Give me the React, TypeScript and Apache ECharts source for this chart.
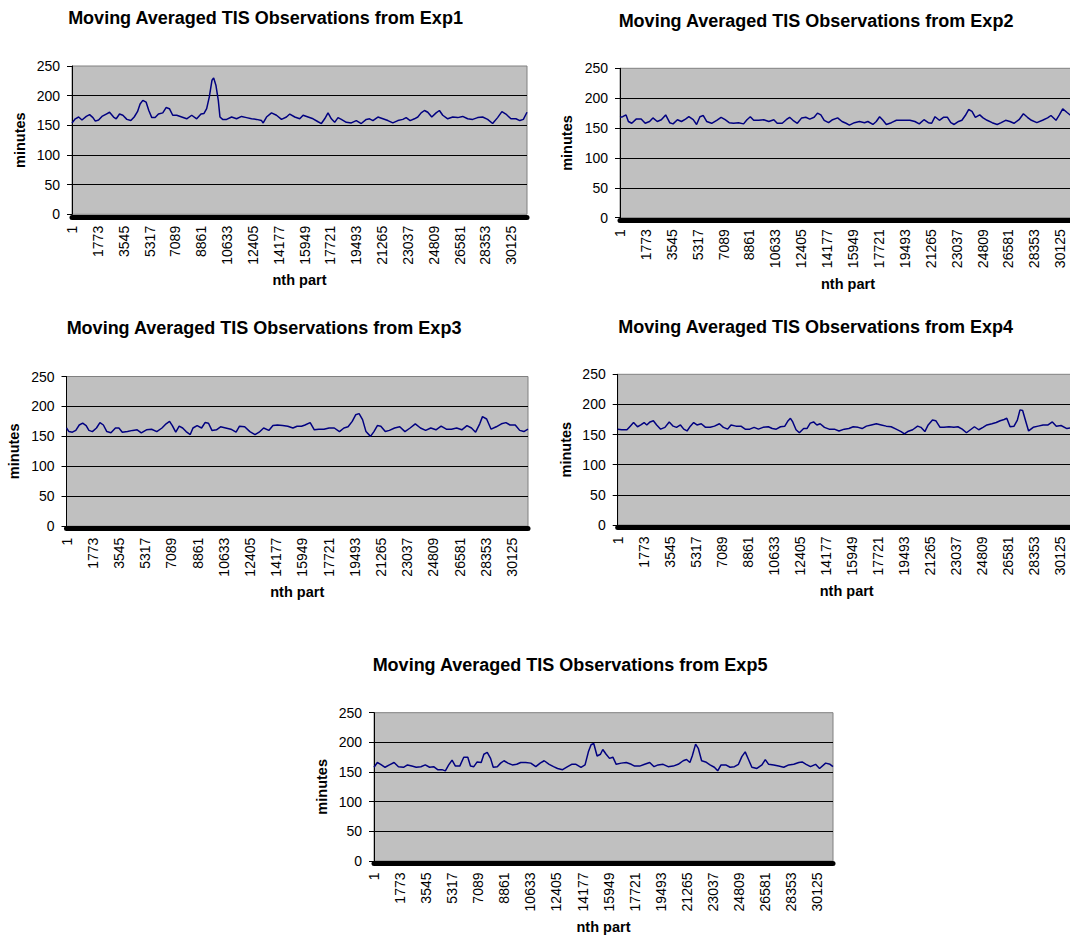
import React, { useEffect, useRef } from "react";
import * as echarts from "echarts";

// ---------- data ----------
const TOTAL_PARTS = 31200;
const PART_STEP = 1772;
const Y_MIN = 0;
const Y_MAX = 250;
const Y_STEP = 50;
const X_AXIS_NAME = "nth part";
const Y_AXIS_NAME = "minutes";
const TITLES = [
  "Moving Averaged TIS Observations from Exp1",
  "Moving Averaged TIS Observations from Exp2",
  "Moving Averaged TIS Observations from Exp3",
  "Moving Averaged TIS Observations from Exp4",
  "Moving Averaged TIS Observations from Exp5",
];

// [part index, moving-averaged minutes]
const exp1: [number, number][] = [
  [0, 154], [228, 161], [456, 164], [684, 159], [980, 165], [1208, 168], [1436, 163], [1600, 157],
  [1824, 159], [2052, 165], [2348, 169], [2576, 172], [2850, 164], [3032, 161], [3260, 169], [3488, 167],
  [3762, 160], [4036, 158], [4264, 164], [4490, 173], [4670, 186], [4856, 192], [5084, 189], [5267, 175],
  [5472, 163], [5700, 163], [5928, 169], [6224, 171], [6452, 180], [6680, 178], [6908, 167], [7182, 167],
  [7524, 164], [7866, 161], [8208, 167], [8550, 161], [8846, 169], [9052, 170], [9234, 178], [9416, 198],
  [9600, 226], [9714, 230], [9873, 217], [10032, 192], [10146, 164], [10328, 160], [10602, 160], [10944, 164],
  [11286, 161], [11628, 165], [11970, 163], [12312, 161], [12654, 160], [12996, 158], [13110, 154], [13338, 164],
  [13680, 171], [14022, 167], [14364, 160], [14706, 164], [14934, 169], [15276, 164], [15618, 161], [15846, 167],
  [16188, 164], [16530, 161], [16872, 156], [17100, 153], [17328, 161], [17556, 171], [17784, 161], [18012, 155],
  [18240, 163], [18468, 160], [18810, 155], [19152, 154], [19494, 158], [19836, 153], [20178, 160], [20406, 161],
  [20634, 158], [20976, 164], [21318, 161], [21660, 158], [22002, 154], [22344, 158], [22686, 160], [22914, 163],
  [23188, 158], [23484, 161], [23712, 164], [23940, 171], [24168, 175], [24396, 172], [24670, 164], [24966, 171],
  [25194, 175], [25422, 167], [25764, 161], [26106, 164], [26448, 163], [26790, 165], [27132, 161], [27474, 160],
  [27816, 163], [28158, 164], [28500, 160], [28842, 153], [29184, 163], [29480, 173], [29754, 169], [30096, 161],
  [30438, 161], [30712, 158], [30950, 160], [31200, 172],
];

const exp2: [number, number][] = [
  [0, 168], [184, 169], [414, 172], [575, 161], [804, 158], [1103, 165], [1448, 165], [1724, 158],
  [2022, 161], [2252, 167], [2551, 161], [2827, 164], [3125, 172], [3401, 159], [3631, 157], [3930, 164],
  [4205, 161], [4481, 165], [4711, 169], [5010, 164], [5240, 156], [5469, 169], [5699, 171], [5929, 161],
  [6274, 158], [6618, 163], [6917, 168], [7193, 164], [7469, 159], [7768, 158], [8113, 159], [8457, 157],
  [8687, 164], [8917, 169], [9147, 163], [9491, 163], [9836, 164], [10181, 161], [10525, 164], [10755, 158],
  [11100, 158], [11375, 164], [11605, 168], [11835, 163], [12133, 158], [12432, 167], [12708, 168], [12984, 165],
  [13283, 168], [13512, 175], [13742, 172], [13972, 163], [14271, 159], [14547, 164], [14891, 167], [15190, 161],
  [15465, 158], [15695, 155], [16040, 159], [16385, 161], [16729, 159], [16959, 161], [17304, 156], [17534, 161],
  [17763, 169], [17993, 163], [18223, 156], [18568, 159], [18912, 163], [19372, 163], [19832, 163], [20176, 161],
  [20475, 157], [20797, 164], [21095, 159], [21325, 158], [21555, 169], [21854, 163], [22130, 168], [22405, 168],
  [22635, 159], [22865, 156], [23164, 161], [23394, 163], [23624, 171], [23854, 181], [24084, 178], [24314, 168],
  [24613, 172], [24843, 167], [25118, 163], [25463, 159], [25808, 156], [26084, 159], [26383, 163], [26681, 161],
  [26957, 158], [27302, 164], [27601, 174], [27877, 168], [28152, 163], [28520, 159], [28911, 163], [29256, 167],
  [29486, 171], [29831, 163], [30061, 172], [30291, 182], [30590, 176], [31000, 168],
];

const exp3: [number, number][] = [
  [0, 164], [163, 158], [396, 157], [629, 160], [862, 169], [1095, 172], [1328, 168], [1515, 160],
  [1748, 158], [2027, 164], [2260, 173], [2493, 169], [2726, 158], [3006, 156], [3309, 164], [3542, 164],
  [3775, 157], [4124, 158], [4474, 160], [4777, 161], [5056, 156], [5406, 161], [5755, 162], [6105, 158],
  [6454, 164], [6734, 171], [6967, 175], [7153, 168], [7386, 157], [7619, 167], [7852, 164], [8085, 158],
  [8365, 153], [8551, 164], [8831, 168], [9134, 164], [9367, 173], [9600, 172], [9833, 160], [10136, 161],
  [10415, 166], [10765, 164], [11114, 162], [11464, 157], [11697, 167], [12046, 166], [12396, 158], [12745, 153],
  [13025, 157], [13328, 164], [13677, 160], [13957, 168], [14260, 169], [14609, 168], [14959, 167], [15308, 164],
  [15588, 167], [15891, 167], [16124, 169], [16473, 173], [16753, 161], [17056, 162], [17405, 162], [17755, 164],
  [18104, 164], [18454, 158], [18757, 164], [19036, 166], [19316, 175], [19549, 186], [19782, 188], [20015, 178],
  [20248, 158], [20551, 150], [20784, 158], [21017, 168], [21250, 167], [21553, 158], [21832, 160], [22182, 164],
  [22531, 166], [22881, 158], [23230, 164], [23580, 171], [23929, 164], [24279, 160], [24628, 164], [24978, 161],
  [25327, 167], [25677, 162], [26026, 162], [26376, 164], [26725, 161], [27075, 168], [27378, 164], [27657, 157],
  [27936, 171], [28123, 183], [28403, 179], [28706, 162], [29055, 166], [29405, 171], [29707, 173], [29987, 169],
  [30337, 169], [30640, 160], [30919, 158], [31200, 162],
];

const exp4: [number, number][] = [
  [0, 159], [270, 158], [630, 158], [855, 164], [1080, 170], [1350, 163], [1575, 166], [1800, 170],
  [1980, 166], [2205, 171], [2430, 173], [2655, 166], [2925, 159], [3218, 162], [3510, 171], [3780, 164],
  [4005, 162], [4275, 166], [4500, 159], [4725, 156], [4950, 164], [5175, 170], [5400, 166], [5693, 168],
  [5985, 162], [6300, 162], [6593, 164], [6930, 168], [7200, 162], [7493, 159], [7718, 166], [8055, 164],
  [8393, 164], [8685, 159], [9000, 159], [9293, 162], [9585, 159], [9900, 162], [10260, 163], [10530, 160],
  [10800, 159], [11093, 163], [11385, 164], [11610, 173], [11768, 177], [11925, 171], [12150, 158], [12375, 153],
  [12668, 160], [12893, 160], [13118, 169], [13343, 171], [13568, 166], [13793, 168], [14085, 162], [14400, 159],
  [14760, 159], [15075, 156], [15435, 159], [15750, 160], [16043, 163], [16380, 162], [16650, 160], [16943, 164],
  [17280, 166], [17618, 168], [17955, 166], [18293, 164], [18630, 163], [18968, 159], [19305, 155], [19530, 151],
  [19755, 155], [20093, 158], [20430, 164], [20655, 162], [20925, 155], [21150, 166], [21443, 174], [21668, 173],
  [21960, 162], [22230, 162], [22568, 163], [22905, 162], [23175, 163], [23468, 159], [23760, 153], [24030, 158],
  [24300, 163], [24593, 158], [24885, 162], [25155, 166], [25493, 168], [25785, 170], [26055, 173], [26325, 175],
  [26505, 177], [26730, 163], [27000, 164], [27225, 174], [27405, 191], [27585, 190], [27810, 171], [27990, 156],
  [28305, 162], [28643, 164], [28980, 166], [29318, 166], [29610, 171], [29880, 164], [30200, 165], [30600, 160],
  [31000, 162],
];

const exp5: [number, number][] = [
  [0, 158], [228, 166], [455, 163], [751, 158], [1047, 162], [1366, 166], [1662, 159], [2004, 158],
  [2277, 162], [2573, 160], [2869, 158], [3188, 159], [3484, 162], [3780, 158], [4053, 159], [4326, 154],
  [4622, 154], [4850, 152], [5078, 162], [5306, 170], [5534, 160], [5830, 160], [6102, 175], [6376, 175],
  [6558, 160], [6786, 159], [7013, 167], [7287, 166], [7469, 180], [7697, 183], [7924, 173], [8106, 158],
  [8380, 159], [8607, 165], [8835, 169], [9108, 165], [9404, 162], [9700, 163], [9973, 166], [10314, 166],
  [10656, 165], [10998, 159], [11294, 165], [11567, 169], [11908, 163], [12204, 159], [12478, 156], [12819, 154],
  [13161, 159], [13434, 163], [13730, 163], [14071, 158], [14345, 162], [14573, 184], [14755, 196], [14937, 198],
  [15165, 177], [15393, 180], [15552, 188], [15780, 180], [16008, 173], [16236, 175], [16463, 163], [16805, 165],
  [17146, 166], [17488, 163], [17716, 160], [18057, 160], [18399, 163], [18740, 166], [19036, 159], [19309, 162],
  [19651, 163], [19992, 159], [20334, 160], [20676, 163], [21017, 169], [21245, 171], [21473, 166], [21632, 177],
  [21860, 197], [22042, 190], [22270, 169], [22543, 167], [22839, 162], [23135, 158], [23363, 152], [23591, 162],
  [23910, 162], [24206, 158], [24502, 159], [24775, 163], [25003, 176], [25231, 184], [25458, 171], [25686, 158],
  [26028, 156], [26369, 162], [26597, 171], [26825, 163], [27167, 162], [27508, 160], [27850, 158], [28191, 162],
  [28533, 163], [28875, 166], [29102, 167], [29375, 163], [29671, 159], [30013, 163], [30286, 156], [30700, 165],
  [31000, 163], [31200, 159],
];

const SERIES = [exp1, exp2, exp3, exp4, exp5];

// ---------- layout (pixels) ----------
const LAYOUT = [
  { left: 72, top: 66, width: 455, height: 148.3, titleX: 265.5, titleY: 18.3, yNameX: 20, xNameY: 279.5 },
  { left: 620, top: 68.3, width: 456, height: 149.4, titleX: 816, titleY: 20.5, yNameX: 567, xNameY: 283.5 },
  { left: 66.5, top: 376.5, width: 461.5, height: 149.7, titleX: 264, titleY: 328.3, yNameX: 14, xNameY: 592 },
  { left: 617.7, top: 374.3, width: 458, height: 150.7, titleX: 815.7, titleY: 326.7, yNameX: 566, xNameY: 590.5 },
  { left: 374, top: 712.7, width: 459, height: 148.3, titleX: 570, titleY: 665, yNameX: 321.7, xNameY: 927 },
];

const FONT = '"Liberation Sans", Arial, sans-serif';

export default function App() {
  const ref = useRef<HTMLDivElement>(null);

  useEffect(() => {
    document.body.style.margin = "0";
    document.body.style.background = "#ffffff";
    if (!ref.current) return;
    const chart = echarts.init(ref.current, null, { renderer: "svg" });

    const graphic: any[] = [];
    LAYOUT.forEach((l, i) => {
      graphic.push({
        type: "text",
        x: l.titleX,
        y: l.titleY,
        silent: true,
        style: {
          text: TITLES[i],
          align: "center",
          verticalAlign: "middle",
          fontFamily: FONT,
          fontSize: 18,
          fontWeight: "bold",
          fill: "#000",
        },
      });
      graphic.push({
        type: "text",
        x: l.yNameX,
        y: l.top + l.height / 2,
        rotation: Math.PI / 2,
        silent: true,
        style: {
          text: Y_AXIS_NAME,
          align: "center",
          verticalAlign: "middle",
          fontFamily: FONT,
          fontSize: 14.5,
          fontWeight: "bold",
          fill: "#000",
        },
      });
      graphic.push({
        type: "text",
        x: l.left + l.width / 2,
        y: l.xNameY,
        silent: true,
        style: {
          text: X_AXIS_NAME,
          align: "center",
          verticalAlign: "middle",
          fontFamily: FONT,
          fontSize: 14.5,
          fontWeight: "bold",
          fill: "#000",
        },
      });
    });

    const option: any = {
      animation: false,
      backgroundColor: "#ffffff",
      textStyle: { fontFamily: FONT },
      grid: LAYOUT.map((l) => ({
        left: l.left,
        top: l.top,
        width: l.width,
        height: l.height,
        show: true,
        backgroundColor: "#C0C0C0",
        borderColor: "#808080",
        borderWidth: 1,
        containLabel: false,
        outerBoundsMode: "none",
      })),
      xAxis: LAYOUT.map((_, i) => ({
        gridIndex: i,
        type: "value",
        min: 0,
        max: TOTAL_PARTS,
        interval: PART_STEP,
        offset: 2.5,
        axisLine: { show: true, onZero: false, lineStyle: { color: "#000", width: 5 } },
        axisTick: { show: false },
        splitLine: { show: false },
        axisLabel: {
          rotate: 90,
          margin: 9,
          color: "#000",
          fontSize: 14,
          fontFamily: FONT,
          showMaxLabel: false,
          formatter: (v: number) => (v % PART_STEP === 0 ? String(v + 1) : ""),
        },
      })),
      yAxis: LAYOUT.map((_, i) => ({
        gridIndex: i,
        type: "value",
        min: Y_MIN,
        max: Y_MAX,
        interval: Y_STEP,
        axisLine: { show: true, lineStyle: { color: "#000", width: 1 } },
        axisTick: { show: true, length: 5, lineStyle: { color: "#000", width: 1 } },
        axisLabel: { margin: 12, color: "#000", fontSize: 14, fontFamily: FONT },
        splitLine: {
          show: true,
          showMinLine: false,
          showMaxLine: false,
          lineStyle: { color: "#000", width: 1 },
        },
      })),
      series: SERIES.map((data, i) => ({
        type: "line",
        name: TITLES[i],
        xAxisIndex: i,
        yAxisIndex: i,
        data,
        symbol: "none",
        showSymbol: false,
        smooth: false,
        clip: true,
        lineStyle: { color: "#000080", width: 1.5 },
        z: 3,
      })),
      graphic,
    };

    chart.setOption(option);
    return () => chart.dispose();
  }, []);

  return <div ref={ref} style={{ width: 1070, height: 936, background: "#fff" }} />;
}
